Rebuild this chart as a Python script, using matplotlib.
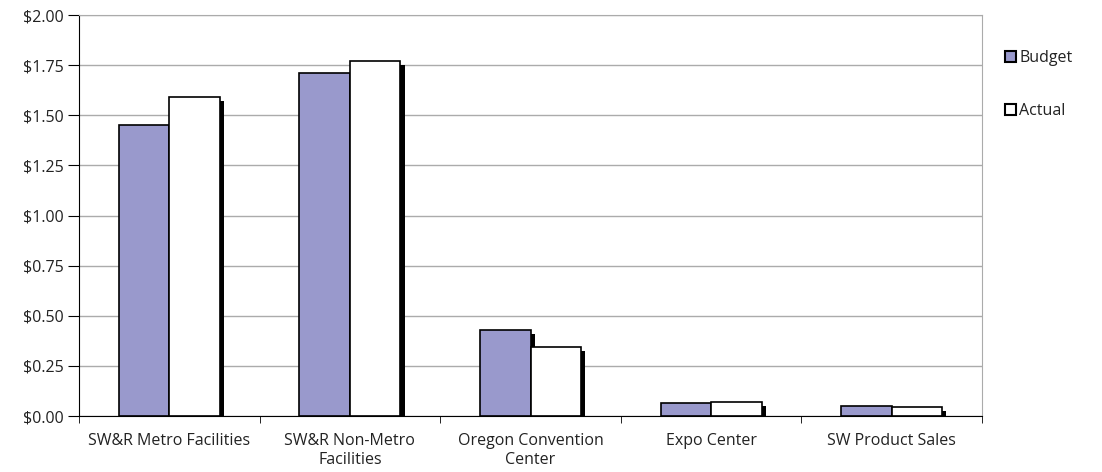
import numpy as np
import matplotlib
matplotlib.use("Agg")
import matplotlib.pyplot as plt
import matplotlib.patheffects as pe
from matplotlib.patches import Patch

plt.rcParams['font.family'] = ['Open Sans', 'DejaVu Sans']

categories = ["SW&R Metro Facilities", "SW&R Non-Metro\nFacilities",
              "Oregon Convention\nCenter", "Expo Center", "SW Product Sales"]
budget = [1.45, 1.71, 0.43, 0.065, 0.05]
actual = [1.59, 1.77, 0.345, 0.07, 0.045]
yticks = [0.0, 0.25, 0.5, 0.75, 1.0, 1.25, 1.5, 1.75, 2.0]

fig = plt.figure(figsize=(11.02, 4.72), dpi=100)
ax = fig.add_axes([0.0717, 0.1186, 0.8194, 0.8496])

x = np.arange(len(categories))
w = 0.28
shadow = [pe.SimplePatchShadow(offset=(3, -3), shadow_rgbFace='black', alpha=1.0), pe.Normal()]
b1 = ax.bar(x - w / 2, budget, w, color='#9999cc', edgecolor='black', linewidth=1.2, zorder=3)
b2 = ax.bar(x + w / 2, actual, w, color='white', edgecolor='black', linewidth=1.2, zorder=3)
for bar in list(b1) + list(b2):
    bar.set_path_effects(shadow)

ax.set_xlim(-0.5, len(categories) - 0.5)
ax.set_ylim(0, 2.0)
ax.set_yticks(yticks)
ax.set_yticklabels([f"${v:.2f}" for v in yticks], fontsize=11.5, color='#222222')
ax.yaxis.grid(True, color='#ababab', linewidth=1, zorder=0)
ax.set_axisbelow(True)

ax.set_xticks(x)
ax.set_xticklabels(categories, fontsize=11.5, linespacing=1.25, color='#222222')
ax.tick_params(axis='x', which='major', length=0, pad=12)
ax.set_xticks(np.arange(-0.5, len(categories)), minor=True)
ax.tick_params(axis='x', which='minor', length=5, color='black')
ax.tick_params(axis='y', length=8, color='black', pad=3)

ax.spines['left'].set_color('black')
ax.spines['bottom'].set_color('black')
ax.spines['top'].set_color('#ababab')
ax.spines['right'].set_color('#ababab')
ax.spines['bottom'].set_zorder(4)

handles = [Patch(facecolor='#9999cc', edgecolor='black', linewidth=1.5),
           Patch(facecolor='white', edgecolor='black', linewidth=1.5)]
fig.legend(handles, ["Budget", "Actual"], loc='upper left', bbox_to_anchor=(0.899, 0.925),
           frameon=False, fontsize=11.5, handlelength=0.7, handleheight=0.7,
           handletextpad=0.2, labelspacing=2.35, labelcolor='#222222')

fig.savefig("out.png", dpi=100)
